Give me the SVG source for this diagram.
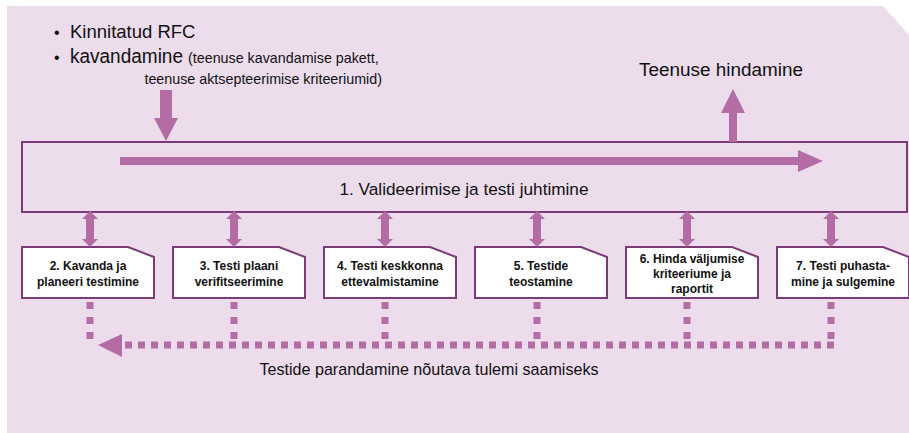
<svg xmlns="http://www.w3.org/2000/svg" width="909" height="433" viewBox="0 0 909 433">
  <style>
    text { font-family: "Liberation Sans", Arial, sans-serif; fill: #111; }
    .arrow { fill: #b46ca5; }
    .dots { fill: none; stroke: #b46ca5; stroke-width: 7; }
    .frame { fill: none; stroke: #7b3b77; stroke-width: 2; }
    .step { fill: #ffffff; stroke: #7b3b77; stroke-width: 2; }
    .step-label { font-size: 12px; font-weight: bold; text-anchor: middle; }
  </style>
  <defs>
    <!-- two-way link between the main frame and a step card -->
    <path id="twoway" d="M0,211 L8,219 L4,219 L4,239 L8,239 L0,247 L-8,239 L-4,239 L-4,219 L-8,219 Z"/>
    <!-- step card with a clipped top-right corner -->
    <path id="card" d="M0,0 H106 L132,10 V51 H0 Z"/>
  </defs>

  <!-- backdrop -->
  <polygon points="7,6 883,6 909,35 909,433 7,433" fill="#ecdcec"/>

  <!-- inputs -->
  <g id="inputs">
    <text x="54" y="38" font-size="16">•</text>
    <text x="70" y="38" font-size="18.5">Kinnitatud RFC</text>
    <text x="54" y="63" font-size="16">•</text>
    <text x="70" y="63" font-size="19.5" textLength="113" lengthAdjust="spacingAndGlyphs">kavandamine</text>
    <text x="188" y="63" font-size="14.3">(teenuse kavandamise pakett,</text>
    <text x="382" y="84" font-size="14.3" text-anchor="end">teenuse aktsepteerimise kriteeriumid)</text>
  </g>

  <!-- output -->
  <g id="output">
    <text x="721" y="76" font-size="18.9" text-anchor="middle">Teenuse hindamine</text>
  </g>

  <!-- 1. main management frame -->
  <g id="step1">
    <rect class="frame" x="22" y="142" width="885" height="70"/>
    <text x="464" y="195" font-size="17.2" text-anchor="middle">1. Valideerimise ja testi juhtimine</text>
  </g>

  <g id="step2">
    <use href="#card" class="step" transform="translate(22,247)"/>
    <text class="step-label" x="88" y="270">2. Kavanda ja</text>
    <text class="step-label" x="88" y="285.5">planeeri testimine</text>
  </g>
  <g id="step3">
    <use href="#card" class="step" transform="translate(173,247)"/>
    <text class="step-label" x="239" y="270">3. Testi plaani</text>
    <text class="step-label" x="239" y="285.5">verifitseerimine</text>
  </g>
  <g id="step4">
    <use href="#card" class="step" transform="translate(324,247)"/>
    <text class="step-label" x="390" y="270">4. Testi keskkonna</text>
    <text class="step-label" x="390" y="285.5">ettevalmistamine</text>
  </g>
  <g id="step5">
    <use href="#card" class="step" transform="translate(475,247)"/>
    <text class="step-label" x="541" y="270">5. Testide</text>
    <text class="step-label" x="541" y="285.5">teostamine</text>
  </g>
  <g id="step6">
    <use href="#card" class="step" transform="translate(626,247)"/>
    <text class="step-label" x="692" y="263">6. Hinda väljumise</text>
    <text class="step-label" x="692" y="278">kriteeriume ja</text>
    <text class="step-label" x="692" y="293">raportit</text>
  </g>
  <g id="step7">
    <use href="#card" class="step" transform="translate(777,247)"/>
    <text class="step-label" x="843" y="270">7. Testi puhasta-</text>
    <text class="step-label" x="843" y="285.5">mine ja sulgemine</text>
  </g>

  <!-- rework loop label -->
  <g id="rework">
    <text x="429" y="375" font-size="16.1" text-anchor="middle">Testide parandamine nõutava tulemi saamiseks</text>
  </g>

  <g id="connectors">
    <!-- input arrow into the frame -->
    <polygon class="arrow" points="160,90 172,90 172,118 178,118 166,141 154,118 160,118"/>
    <!-- output arrow up from the frame -->
    <polygon class="arrow" points="733,89 745,113 737,113 737,142 729,142 729,113 721,113"/>
    <!-- flow arrow inside the frame -->
    <polygon class="arrow" points="120,157 798,157 798,150 823,161 798,172 798,165 120,165"/>

    <!-- frame to step links -->
    <use href="#twoway" class="arrow" transform="translate(90,0)"/>
    <use href="#twoway" class="arrow" transform="translate(234,0)"/>
    <use href="#twoway" class="arrow" transform="translate(385,0)"/>
    <use href="#twoway" class="arrow" transform="translate(537,0)"/>
    <use href="#twoway" class="arrow" transform="translate(687,0)"/>
    <use href="#twoway" class="arrow" transform="translate(831,0)"/>

    <!-- dotted rework feedback -->
    <g class="dots" stroke-dasharray="7 8">
      <path d="M90,302 V342"/>
      <path d="M234,302 V342"/>
      <path d="M385,302 V342"/>
      <path d="M537,302 V342"/>
      <path d="M687,302 V342"/>
      <path d="M831,302 V342"/>
    </g>
    <path class="dots" stroke-width="6" stroke-dasharray="7 6" d="M834,345 H123"/>
    <polygon class="arrow" points="98,345 122,334 122,357"/>
  </g>
</svg>
